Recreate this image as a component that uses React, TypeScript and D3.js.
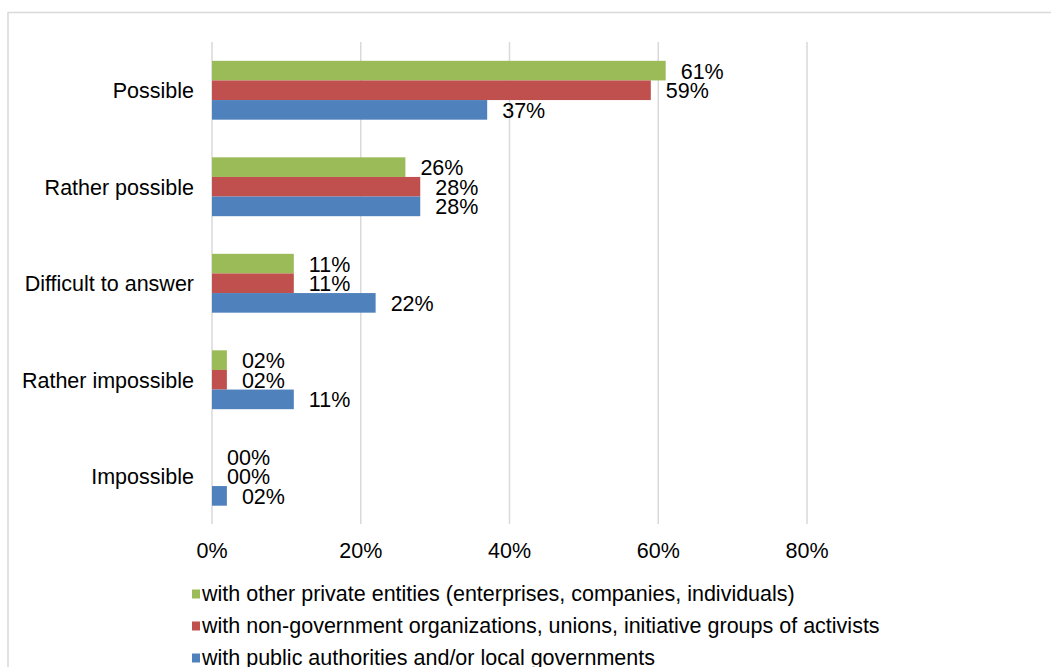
import React from "react";
import * as d3 from "d3";

const categories = ["Possible", "Rather possible", "Difficult to answer", "Rather impossible", "Impossible"];
const seriesNames = [
  "with other private entities (enterprises, companies, individuals)",
  "with non-government organizations, unions, initiative groups of activists",
  "with public authorities and/or local governments",
];
const seriesColors = ["#9BBB59", "#C0504D", "#4F81BD"];
const privateEntities = [61, 26, 11, 2, 0];
const ngos = [59, 28, 11, 2, 0];
const publicAuthorities = [37, 28, 22, 11, 2];
const xTicks = [0, 20, 40, 60, 80];

const W = 1051;
const H = 667;
const FONT = "'Liberation Sans', Arial, sans-serif";
const FS = 21.5;

export default function App() {
  const series = [privateEntities, ngos, publicAuthorities];
  const x = d3.scaleLinear().domain([0, 80]).range([212, 807]);
  const y = d3.scaleBand<string>().domain(categories).range([42, 524.5]).paddingInner(0.39).paddingOuter(0.195);
  const inner = d3.scaleBand<number>().domain([0, 1, 2]).range([0, y.bandwidth()]);
  const fmt = (v: number) => d3.format("02d")(v) + "%";

  return (
    <svg width={W} height={H} style={{ position: "absolute", left: 0, top: 0, background: "#fff" }} fontFamily={FONT}>
      <rect x={8} y={12.5} width={W} height={H} fill="#fff" stroke="#d9d9d9" strokeWidth={1.5} />
      {xTicks.map((t) => (
        <line key={t} x1={x(t)} x2={x(t)} y1={42} y2={524} stroke="#d9d9d9" strokeWidth={1.5} />
      ))}
      {categories.map((c, ci) => (
        <g key={c}>
          <text x={194} y={(y(c) as number) + y.bandwidth() / 2 + 1} textAnchor="end" dominantBaseline="central" fontSize={FS} fill="#000">
            {c}
          </text>
          {series.map((s, si) => {
            const by = (y(c) as number) + (inner(si) as number);
            const v = s[ci];
            return (
              <g key={si}>
                {v > 0 && (
                  <rect x={x(0)} y={by} width={x(v) - x(0)} height={inner.bandwidth()} fill={seriesColors[si]} />
                )}
                <text x={x(v) + 15} y={by + inner.bandwidth() / 2 + 1} dominantBaseline="central" fontSize={FS} fill="#000">
                  {fmt(v)}
                </text>
              </g>
            );
          })}
        </g>
      ))}
      {xTicks.map((t) => (
        <text key={t} x={x(t)} y={551} textAnchor="middle" dominantBaseline="central" fontSize={FS} fill="#000">
          {t + "%"}
        </text>
      ))}
      {seriesNames.map((n, i) => (
        <g key={n}>
          <rect x={192} y={589.5 + i * 32} width={8} height={9} fill={seriesColors[i]} />
          <text x={202} y={594 + i * 32} dominantBaseline="central" fontSize={FS} fill="#000">
            {n}
          </text>
        </g>
      ))}
    </svg>
  );
}
